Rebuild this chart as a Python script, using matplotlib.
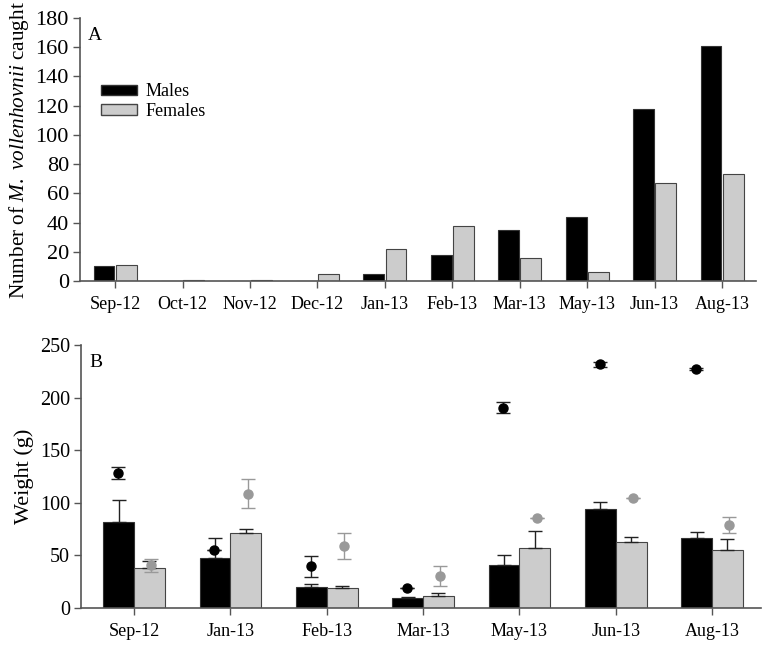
import matplotlib
matplotlib.use("Agg")
import matplotlib.pyplot as plt
import numpy as np
from matplotlib.patches import Patch

plt.rcParams['font.family'] = ['Liberation Serif', 'DejaVu Serif']
plt.rcParams['mathtext.fontset'] = 'custom'
plt.rcParams['mathtext.rm'] = 'Liberation Serif'
plt.rcParams['mathtext.it'] = 'Liberation Serif:italic'

# Panel A data
months_a = ["Sep-12", "Oct-12", "Nov-12", "Dec-12", "Jan-13", "Feb-13", "Mar-13", "May-13", "Jun-13", "Aug-13"]
males_a = [10, 0, 0, 0, 5, 18, 35, 44, 118, 161]
females_a = [11, 1, 1, 5, 22, 38, 16, 6, 67, 73]

# Panel B data
months_b = ["Sep-12", "Jan-13", "Feb-13", "Mar-13", "May-13", "Jun-13", "Aug-13"]
male_bar = [81.8, 47, 19.4, 9, 41, 94.2, 66.3]
male_bar_err = [21, 19, 2.8, 1, 9.5, 6.4, 5.4]
female_bar = [37.5, 70.8, 18.7, 10.8, 56.5, 62.8, 54.9]
female_bar_err = [6.9, 4.1, 2.3, 2.9, 16.5, 4.8, 10.2]
male_dot = [127.9, 54.9, 39.7, 18.4, 190.3, 231.6, 227.1]
male_dot_err = [5.6, 0, 10, 0, 5.4, 2, 1]
female_dot = [40.3, 108.5, 58.7, 30.2, 85.6, 104.7, 78.4]
female_dot_err = [6.3, 14, 12.7, 9.5, 0, 0, 7.6]

axis_col = '#555555'
fem_col = '#cccccc'
fem_edge = '#444444'
dot_grey = '#999999'

fig = plt.figure(figsize=(7.65, 6.45), dpi=100)
axA = fig.add_axes([0.1046, 0.5643, 0.8834, 0.4077])
axB = fig.add_axes([0.1059, 0.0578, 0.8891, 0.4072])

def style(ax, ysize):
    for s in ['top', 'right']:
        ax.spines[s].set_visible(False)
    for s in ['left', 'bottom']:
        ax.spines[s].set_color(axis_col)
        ax.spines[s].set_linewidth(1.2)
    ax.tick_params(axis='both', colors=axis_col, labelcolor='black', length=5, width=1)
    ax.tick_params(axis='x', labelsize=13, pad=6)
    ax.tick_params(axis='y', labelsize=ysize, pad=3)

# Panel A
xa = np.arange(len(months_a))
w = 0.31
axA.bar(xa - 0.165, males_a, w, color='black', edgecolor='#333333', linewidth=0.8)
axA.bar(xa + 0.165, females_a, w, color=fem_col, edgecolor=fem_edge, linewidth=0.8)
axA.set_xlim(-0.52, 9.5)
axA.set_ylim(0, 180)
axA.set_yticks(np.arange(0, 181, 20))
axA.set_xticks(xa)
axA.set_xticklabels(months_a)
style(axA, 16)
axA.set_ylabel(r'Number of $\mathit{M.\ vollenhovnii}$ caught', fontsize=15.3, labelpad=3)
axA.text(0.012, 0.965, 'A', transform=axA.transAxes, fontsize=14, va='top', ha='left')
handles = [Patch(facecolor='black', edgecolor='#333333'), Patch(facecolor=fem_col, edgecolor=fem_edge)]
axA.legend(handles, ['Males', 'Females'], loc='upper left', bbox_to_anchor=(0.012, 0.80),
           frameon=False, fontsize=13, handlelength=2.0, handleheight=0.5, labelspacing=0.15,
           handletextpad=0.5, borderpad=0.2)

# Panel B
xb = np.arange(len(months_b))
wb = 0.32
axB.bar(xb - 0.16, male_bar, wb, color='black', edgecolor='#333333', linewidth=0.8)
axB.bar(xb + 0.16, female_bar, wb, color=fem_col, edgecolor=fem_edge, linewidth=0.8)
axB.errorbar(xb - 0.16, male_bar, yerr=[np.zeros(len(xb)), male_bar_err], fmt='none',
             ecolor='#222222', elinewidth=1, capsize=5, capthick=1)
axB.errorbar(xb + 0.16, female_bar, yerr=[np.zeros(len(xb)), female_bar_err], fmt='none',
             ecolor='#222222', elinewidth=1, capsize=5, capthick=1)
axB.errorbar(xb - 0.165, male_dot, yerr=male_dot_err, fmt='o', color='black', ms=6.5,
             ecolor='#222222', elinewidth=1, capsize=5, capthick=1, zorder=4)
axB.errorbar(xb + 0.18, female_dot, yerr=female_dot_err, fmt='o', color=dot_grey, ms=6.5,
             ecolor=dot_grey, elinewidth=1, capsize=5, capthick=1, zorder=4)
axB.set_xlim(-0.55, 6.51)
axB.set_ylim(0, 250)
axB.set_yticks(np.arange(0, 251, 50))
axB.set_xticks(xb)
axB.set_xticklabels(months_b)
style(axB, 14.5)
axB.set_ylabel('Weight (g)', fontsize=16, labelpad=4)
axB.text(0.012, 0.965, 'B', transform=axB.transAxes, fontsize=14, va='top', ha='left')

fig.savefig('out.png', dpi=100)
